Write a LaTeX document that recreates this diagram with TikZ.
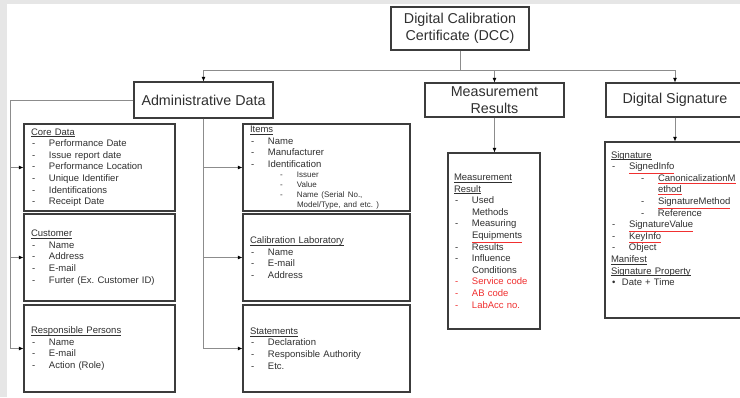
\documentclass[tikz,border=0pt]{standalone}
\usepackage{fontspec}
\setmainfont{Liberation Sans}
\usetikzlibrary{arrows.meta}

\definecolor{txt}{HTML}{303030}
\definecolor{bdr}{HTML}{3C3C3C}
\definecolor{wire}{HTML}{8C8C8C}
\definecolor{scrn}{HTML}{E6E6E6}
\definecolor{spell}{HTML}{F03030}

% list helpers
\newcommand{\hd}[1]{\leavevmode\setbox0\hbox{#1}\rlap{\color{txt}\rule[-1.8pt]{\wd0}{0.5pt}}\box0}
\newcommand{\spl}[1]{{\color{spell}\underline{\color{txt}#1}}}
\newcommand{\li}[1]{\par\noindent\makebox[18pt][l]{\hspace{1pt}-}#1}
\newcommand{\rli}[1]{\par\noindent{\color{spell}\makebox[18pt][l]{\hspace{1pt}-}#1}}
\newcommand{\lc}[1]{\par\noindent\hspace*{18pt}#1}
\newcommand{\sli}[1]{\par\noindent\hspace*{30pt}\makebox[17pt][l]{-}#1}
\newcommand{\slc}[1]{\par\noindent\hspace*{47pt}#1}
\newcommand{\bli}[1]{\par\noindent\makebox[11pt][l]{\hspace{1pt}\textbullet}#1}

\begin{document}
\frenchspacing
\begin{tikzpicture}[x=1pt,y=-1pt,
  hdr/.style={draw=bdr,line width=1.1pt,fill=white,text=txt,align=center,
    font=\fontsize{14.3}{17.5}\selectfont,inner sep=2pt},
  itembox/.style={draw=bdr,line width=1.1pt,text=txt,align=left,
    font=\fontsize{9.5}{11.6}\selectfont,inner xsep=7pt,inner ysep=2pt},
  conn/.style={draw=wire,line width=0.8pt},
  arr/.style={conn,-{Latex[length=4.5pt,width=4pt,color=black]}}]
\clip (0,0) rectangle (740,397);
\fill[scrn] (0,0) rectangle (740,397);
\fill[white] (7,4) rectangle (740,397);

% top level
\node[hdr,minimum width=138pt,minimum height=43pt] (dcc) at (460,28.5) {Digital Calibration\\Certificate (DCC)};
\node[hdr,minimum width=139pt,minimum height=36pt] (adm) at (203.5,100) {Administrative Data};
\node[hdr,minimum width=139pt,minimum height=34pt] (mres) at (494.5,100) {Measurement\\Results};
\node[hdr,minimum width=138pt,minimum height=34pt] (dsig) at (675,100) {Digital Signature};

% administrative data boxes
\node[itembox,text width=137pt,minimum height=87pt] (core) at (99.5,167.5) {\hd{Core Data}
  \li{Performance Date}\li{Issue report date}\li{Performance Location}
  \li{Unique Identifier}\li{Identifications}\li{Receipt Date}};
\node[itembox,text width=137pt,minimum height=87pt] (cust) at (99.5,257.5) {\hd{Customer}
  \li{Name}\li{Address}\li{E-mail}\li{Furter (Ex. Customer ID)}};
\node[itembox,text width=137pt,minimum height=87pt] (resp) at (99.5,348.5) {\hd{Responsible Persons}
  \li{Name}\li{E-mail}\li{Action (Role)}};
\node[itembox,text width=153pt,minimum height=87pt] (items) at (326.5,167.5) {\hd{Items}
  \li{Name}\li{Manufacturer}\li{Identification}\par
  {\fontsize{8}{10}\selectfont\sli{Issuer}\sli{Value}\sli{Name (Serial No.,}\slc{Model/Type, and etc. )}\par}};
\node[itembox,text width=153pt,minimum height=87pt] (calab) at (326.5,257.5) {\hd{Calibration Laboratory}
  \li{Name}\li{E-mail}\li{Address}};
\node[itembox,text width=153pt,minimum height=87pt] (stmt) at (326.5,348.5) {\hd{Statements}
  \li{Declaration}\li{Responsible Authority}\li{Etc.}};

% measurement results box
\node[itembox,inner xsep=6pt,text width=80pt,minimum height=176pt] (mbox) at (494,241) {\hd{Measurement}\par\hd{Result}
  \li{Used}\lc{Methods}\li{Measuring}\lc{\spl{Equipments}}\li{Results}
  \li{Influence}\lc{Conditions}\rli{Service code}\rli{AB code}\rli{LabAcc no.}};

% digital signature box
\node[itembox,inner xsep=6pt,text width=128pt,minimum height=176pt] (sbox) at (675,230) {\hd{Signature}
  \li{\spl{SignedInfo}}\sli{\spl{CanonicalizationM}}\slc{\spl{ethod}}
  \sli{\spl{SignatureMethod}}\sli{Reference}
  \li{\spl{SignatureValue}}\li{\spl{KeyInfo}}\li{Object}
  \par\hd{Manifest}\par\hd{Signature Property}\bli{Date + Time}\par\rule{0pt}{22pt}};

% connectors
\draw[conn] (dcc.south) -- ++(0,20) coordinate (bus);
\draw[arr] (bus) -| (adm.north);
\draw[arr] (bus) -| (mres.north);
\draw[arr] (bus) -| (dsig.north);
\draw[conn] (adm.west) -- ++(-123,0) coordinate (lbus);
\draw[arr] (lbus) |- (core.west);
\draw[arr] (lbus) |- (cust.west);
\draw[arr] (lbus) |- (resp.west);
\draw[arr] (adm.south) |- (items.west);
\draw[arr] (adm.south) |- (calab.west);
\draw[arr] (adm.south) |- (stmt.west);
\draw[arr] (mres.south) -- (mres.south |- mbox.north);
\draw[arr] (dsig.south) -- (sbox.north);
\end{tikzpicture}
\end{document}
